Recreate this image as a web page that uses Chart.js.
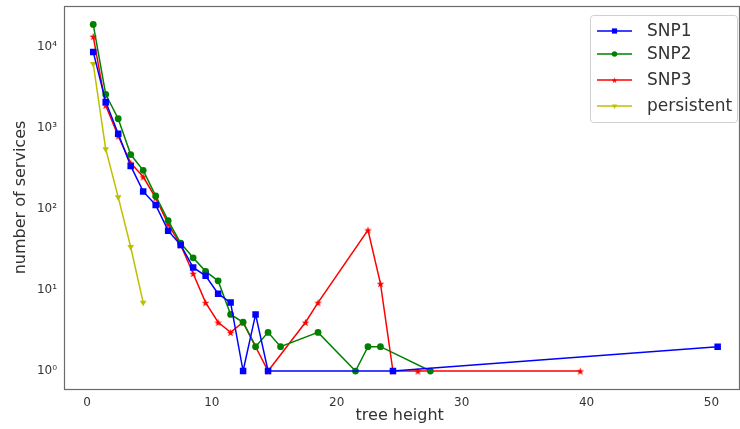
<!DOCTYPE html>
<html>
<head>
<meta charset="utf-8">
<script src="https://cdn.jsdelivr.net/npm/chart.js@4/dist/chart.umd.min.js"></script>
<style>
html, body { margin: 0; padding: 0; background: #fff; }
#wrap { width: 740px; height: 429px; position: relative; }
</style>
</head>
<body>
<div id="wrap"><canvas id="chart"></canvas></div>
<script>
// values (tree height -> number of services)
const snp1X = [0.5, 1.5, 2.5, 3.5, 4.5, 5.5, 6.5, 7.5, 8.5, 9.5, 10.5, 11.5, 12.5, 13.5, 14.5, 24.5, 50.5];
const snp1Y = [8700, 2100, 850, 340, 165, 112, 54, 36, 19, 15, 9, 7, 1, 5, 1, 1, 2];

const snp2X = [0.5, 1.5, 2.5, 3.5, 4.5, 5.5, 6.5, 7.5, 8.5, 9.5, 10.5, 11.5, 12.5, 13.5, 14.5, 15.5, 18.5, 21.5, 22.5, 23.5, 27.5];
const snp2Y = [19000, 2600, 1300, 470, 300, 145, 72, 38, 25, 17, 13, 5, 4, 2, 3, 2, 3, 1, 2, 2, 1];

const snp3X = [0.5, 1.5, 2.5, 3.5, 4.5, 5.5, 6.5, 7.5, 8.5, 9.5, 10.5, 11.5, 12.5, 14.5, 17.5, 18.5, 22.5, 23.5, 24.5, 26.5, 39.5];
const snp3Y = [13500, 1900, 800, 370, 250, 137, 65, 36, 16, 7, 4, 3, 4, 1, 4, 7, 55, 12, 1, 1, 1];

const persistX = [0.5, 1.5, 2.5, 3.5, 4.5];
const persistY = [6200, 550, 140, 34, 7];

const xTicks = [0, 10, 20, 30, 40, 50];
const yTicks = [1, 10, 100, 1000, 10000];
const supers = ['⁰', '¹', '²', '³', '⁴', '⁵'];

const textColor = '#333333';
const font = 'DejaVu Sans';

function pairs(xs, ys) {
    return xs.map((x, i) => ({ x: x, y: ys[i] }));
}

// matplotlib-like 5 point star marker
function makeStar(color, size) {
    const c = document.createElement('canvas');
    c.width = size; c.height = size;
    const g = c.getContext('2d');
    const m = size / 2, ro = size / 2 - 0.5, ri = ro * 0.42;
    g.fillStyle = color;
    g.beginPath();
    for (let i = 0; i < 10; i++) {
        const r = i % 2 === 0 ? ro : ri;
        const a = -Math.PI / 2 + i * Math.PI / 5;
        const px = m + r * Math.cos(a), py = m + 0.6 + r * Math.sin(a);
        if (i === 0) g.moveTo(px, py); else g.lineTo(px, py);
    }
    g.closePath();
    g.fill();
    return c;
}
const star = makeStar('#ff0000', 9);
const smallStar = makeStar('#ff0000', 7);

// plot frame on all four sides
const framePlugin = {
    id: 'frame',
    afterDraw(chart) {
        const { ctx, chartArea: a } = chart;
        ctx.save();
        ctx.strokeStyle = '#6b6b6b';
        ctx.lineWidth = 1.2;
        ctx.strokeRect(a.left + 0.5, a.top + 0.5, 739 - a.left, a.bottom - a.top);
        ctx.restore();
    }
};

// legend box in the upper right corner
const legendPlugin = {
    id: 'boxLegend',
    afterDraw(chart) {
        const ctx = chart.ctx;
        const x0 = 590, y0 = 15, w = 147, h = 107;
        ctx.save();
        ctx.fillStyle = 'rgba(255,255,255,0.85)';
        ctx.strokeStyle = '#d0d0d0';
        ctx.lineWidth = 1;
        ctx.beginPath();
        ctx.roundRect(x0 + 0.5, y0 + 0.5, w, h, 3);
        ctx.fill();
        ctx.stroke();
        const rows = [31, 54, 80, 106];
        chart.data.datasets.forEach((ds, i) => {
            const y = rows[i];
            ctx.strokeStyle = ds.borderColor;
            ctx.lineWidth = 1.5;
            ctx.beginPath();
            ctx.moveTo(597, y);
            ctx.lineTo(632, y);
            ctx.stroke();
            ctx.fillStyle = ds.pointBackgroundColor;
            ctx.strokeStyle = ds.pointBorderColor;
            Chart.helpers.drawPoint(ctx, {
                pointStyle: ds.pointStyle === star ? smallStar : ds.pointStyle,
                rotation: ds.pointRotation || 0,
                radius: ds.pointRadius * 0.8,
                borderWidth: 0
            }, 614.5, y);
            ctx.fillStyle = textColor;
            ctx.font = '17px "' + font + '"';
            ctx.textBaseline = 'middle';
            ctx.fillText(ds.label, 647, y + 1);
        });
        ctx.restore();
    }
};

new Chart(document.getElementById('chart'), {
    type: 'line',
    data: {
        datasets: [
            { label: 'SNP1', data: pairs(snp1X, snp1Y), borderColor: '#0000ff', pointBackgroundColor: '#0000ff', pointBorderColor: '#0000ff', pointStyle: 'rect', pointRadius: 4.6 },
            { label: 'SNP2', data: pairs(snp2X, snp2Y), borderColor: '#008000', pointBackgroundColor: '#008000', pointBorderColor: '#008000', pointStyle: 'circle', pointRadius: 3.4 },
            { label: 'SNP3', data: pairs(snp3X, snp3Y), borderColor: '#ff0000', pointBackgroundColor: '#ff0000', pointBorderColor: '#ff0000', pointStyle: star, pointRadius: 4 },
            { label: 'persistent', data: pairs(persistX, persistY), borderColor: '#bfbf00', pointBackgroundColor: '#bfbf00', pointBorderColor: '#bfbf00', pointStyle: 'triangle', pointRotation: 180, pointRadius: 3.8 }
        ].map(ds => Object.assign({ borderWidth: 1.5, pointBorderWidth: 0, tension: 0, fill: false }, ds))
    },
    options: {
        responsive: true,
        maintainAspectRatio: false,
        animation: false,
        devicePixelRatio: 1,
        layout: { padding: { top: 6, left: 0, right: 0, bottom: 0 } },
        plugins: { legend: { display: false }, tooltip: { enabled: false } },
        scales: {
            x: {
                type: 'linear',
                min: -1.84,
                max: 51.92,
                grid: { display: false, drawTicks: false },
                border: { display: false },
                afterBuildTicks: s => { s.ticks = xTicks.map(v => ({ value: v })); },
                afterFit: s => { s.height = 40; s.paddingLeft = 0; s.paddingRight = 0; },
                ticks: { color: textColor, font: { family: font, size: 12 }, padding: 7 },
                title: { display: true, text: 'tree height', color: textColor, font: { family: font, size: 16 }, padding: { top: 4 } }
            },
            y: {
                type: 'logarithmic',
                min: 0.617,
                max: 32060,
                grid: { display: false, drawTicks: false },
                border: { display: false },
                afterBuildTicks: s => { s.ticks = yTicks.map(v => ({ value: v })); },
                afterFit: s => { s.width = 64; s.paddingTop = 0; s.paddingBottom = 0; },
                ticks: {
                    color: textColor,
                    font: { family: font, size: 12 },
                    padding: 7,
                    callback: v => '10' + supers[Math.round(Math.log10(v))]
                },
                title: { display: true, text: 'number of services', color: textColor, font: { family: font, size: 16 }, padding: { top: 11, bottom: 4 } }
            }
        }
    },
    plugins: [framePlugin, legendPlugin]
});
</script>
</body>
</html>
